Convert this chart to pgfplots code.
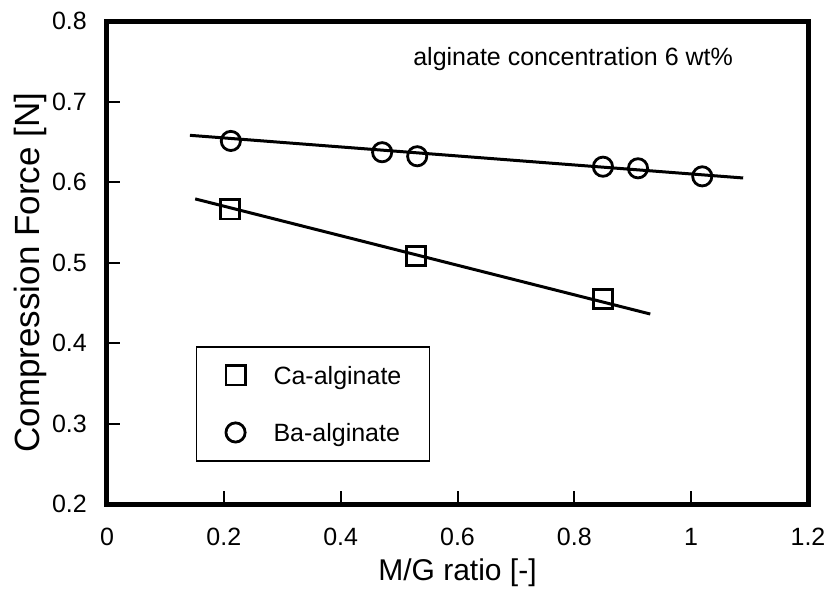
\documentclass[border=0pt]{standalone}
\usepackage{pgfplots}
\pgfplotsset{compat=1.18}
\usepackage{fontspec}
\setmainfont{Liberation Sans}

\begin{document}
\begin{tikzpicture}
\begin{axis}[
  scale only axis,
  width=701pt, height=483pt,
  xmin=0, xmax=1.2, ymin=0.2, ymax=0.8,
  xtick={0,0.2,0.4,0.6,0.8,1,1.2},
  ytick={0.2,0.3,0.4,0.5,0.6,0.7,0.8},
  xtick pos=bottom, ytick pos=left,
  tick align=inside,
  major tick length=13pt,
  every tick/.style={black, line width=2pt},
  axis line style={line width=5pt, line join=miter},
  /pgf/number format/assume math mode=true,
  tick label style={font=\fontsize{25}{25}\selectfont},
  xticklabel style={inner sep=0pt, anchor=north, yshift=-24pt},
  yticklabel style={inner sep=0pt, anchor=east, xshift=-20pt,
    /pgf/number format/.cd, fixed, fixed zerofill, precision=1},
  xlabel={M/G ratio [-]},
  ylabel={Compression Force [N]},
  xlabel style={font=\fontsize{30}{30}\selectfont,
    at={(axis description cs:0.5,0)}, anchor=base, yshift=-76pt},
  ylabel style={font=\fontsize{35}{35}\selectfont,
    at={(axis description cs:-0.0956,0.479)}, anchor=base},
  legend style={at={(axis cs:0.152,0.396)}, anchor=north west,
    draw=black, line width=1.5pt, inner xsep=28pt, inner ysep=0pt,
    row sep=0pt, font=\fontsize{25}{25}\selectfont,
    nodes={inner sep=0pt},
    /tikz/column 2/.append style={yshift=8pt}},
  legend cell align=left,
  legend image code/.code={%
    \path[draw=none, fill=none] (-11pt,-19.5pt) rectangle (38pt,37.5pt);
    \draw[#1] plot coordinates {(0pt,9pt)};},
  clip=false,
]
% linear fits
\addplot[black, line width=3pt, forget plot] coordinates {(0.151,0.579) (0.930,0.436)};
\addplot[black, line width=3pt, forget plot] coordinates {(0.142,0.658) (1.089,0.605)};

% Ca-alginate beads
\addplot[only marks, mark=square, mark size=9.6pt, line width=2.8pt,
  mark options={solid, fill=white, draw=black}] coordinates {
  (0.211,0.566) (0.529,0.508) (0.849,0.455)};
\addlegendentry{Ca-alginate}

% Ba-alginate beads
\addplot[only marks, mark=o, mark size=9.6pt, line width=2.8pt,
  mark options={solid, fill=white, draw=black}] coordinates {
  (0.212,0.651) (0.471,0.637) (0.531,0.632) (0.849,0.619) (0.909,0.617) (1.019,0.607)};
\addlegendentry{Ba-alginate}

\node[font=\fontsize{25}{25}\selectfont] at (axis cs:0.798,0.753) {alginate concentration 6 wt\%};
\coordinate (o) at (rel axis cs:0,0);
\end{axis}
\pgfresetboundingbox
\path (o) ++(-107pt,-88pt) rectangle ++(830pt,592pt);
\end{tikzpicture}
\end{document}
